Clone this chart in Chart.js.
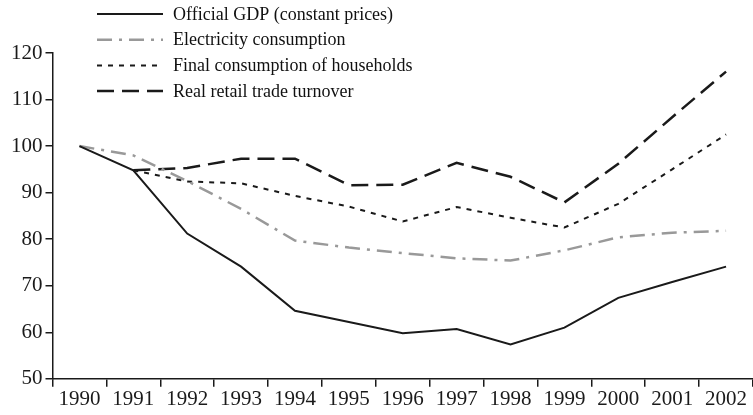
<!DOCTYPE html>
<html>
<head>
<meta charset="utf-8">
<script src="https://cdn.jsdelivr.net/npm/chart.js@4"></script>
<style>
  body { margin: 0; background: #fff; }
  canvas { display: block; }
</style>
</head>
<body>
<canvas id="myChart" width="753" height="415"></canvas>
<script>
// data (index, 1990 = 100)
var years = ['1990', '1991', '1992', '1993', '1994', '1995', '1996', '1997', '1998', '1999', '2000', '2001', '2002'];
var gdp = [100, 94.8, 81.2, 74.1, 64.6, 62.2, 59.8, 60.7, 57.4, 61.0, 67.4, 70.8, 74.1];
var electricity = [100, 98.0, 92.5, 86.5, 79.7, 78.2, 77.0, 75.9, 75.4, 77.6, 80.4, 81.4, 81.8];
var households = [null, 94.8, 92.4, 92.0, 89.3, 87.0, 83.8, 86.9, 84.6, 82.5, 87.6, 95.0, 102.5];
var retail = [null, 94.8, 95.3, 97.3, 97.3, 91.6, 91.7, 96.4, 93.4, 87.9, 96.2, 106.2, 116.0];
var yTicks = [50, 60, 70, 80, 90, 100, 110, 120];

var serif = '"Liberation Serif", "Times New Roman", serif';

// legend drawn by hand so the entries stack like the original
var stackedLegend = {
    id: 'stackedLegend',
    afterDraw: function (chart) {
        var ctx = chart.ctx;
        ctx.save();
        chart.data.datasets.forEach(function (ds, i) {
            var y = 14 + i * 25.7;
            ctx.beginPath();
            ctx.strokeStyle = ds.borderColor;
            ctx.lineWidth = ds.borderWidth;
            ctx.setLineDash(ds.borderDash || []);
            ctx.moveTo(97, y);
            ctx.lineTo(163, y);
            ctx.stroke();
            ctx.setLineDash([]);
            ctx.fillStyle = '#111';
            ctx.font = '18px ' + serif;
            ctx.textBaseline = 'middle';
            ctx.fillText(ds.label, 173, y + 1);
        });
        ctx.restore();
    }
};

var ctx = document.getElementById('myChart').getContext('2d');
var currentChart = new Chart(ctx, {
    type: 'line',
    data: {
        labels: years,
        datasets: [
            {
                label: 'Official GDP (constant prices)',
                data: gdp,
                borderColor: '#1a1a1a',
                borderWidth: 2,
                pointRadius: 0
            },
            {
                label: 'Electricity consumption',
                data: electricity,
                borderColor: '#999999',
                borderWidth: 2.5,
                borderDash: [15, 7, 3, 7],
                pointRadius: 0
            },
            {
                label: 'Final consumption of households',
                data: households,
                borderColor: '#1a1a1a',
                borderWidth: 2,
                borderDash: [5, 6],
                pointRadius: 0
            },
            {
                label: 'Real retail trade turnover',
                data: retail,
                borderColor: '#1a1a1a',
                borderWidth: 2.5,
                borderDash: [17, 8],
                pointRadius: 0
            }
        ]
    },
    options: {
        responsive: false,
        animation: false,
        layout: { padding: { top: 53, left: 8, right: 0, bottom: 3 } },
        plugins: {
            legend: { display: false },
            tooltip: { enabled: false }
        },
        scales: {
            x: {
                offset: true,
                grid: {
                    offset: true,
                    drawOnChartArea: false,
                    drawTicks: true,
                    tickLength: 8,
                    color: '#1a1a1a',
                    lineWidth: 1.5
                },
                border: { display: true, color: '#1a1a1a', width: 1.5 },
                ticks: {
                    color: '#1a1a1a',
                    font: { family: serif, size: 21 },
                    padding: 0,
                    maxRotation: 0,
                    autoSkip: false
                }
            },
            y: {
                min: 50,
                max: 120,
                afterBuildTicks: function (axis) {
                    axis.ticks = yTicks.map(function (v) { return { value: v }; });
                },
                grid: {
                    drawOnChartArea: false,
                    drawTicks: true,
                    tickLength: 7,
                    color: '#1a1a1a',
                    lineWidth: 1.5
                },
                border: { display: true, color: '#1a1a1a', width: 1.5 },
                ticks: {
                    color: '#1a1a1a',
                    font: { family: serif, size: 21 },
                    padding: 3
                }
            }
        }
    },
    plugins: [stackedLegend]
});
</script>
</body>
</html>
